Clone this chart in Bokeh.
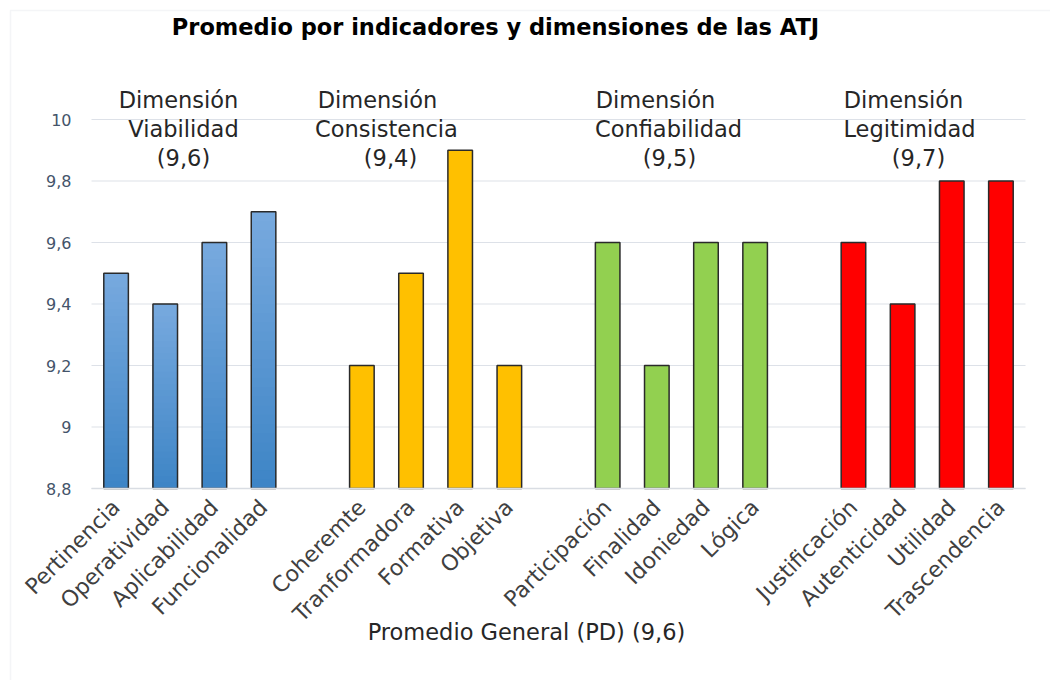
import numpy as np
from bokeh.plotting import figure
from bokeh.models import FixedTicker, Label, BoxAnnotation, LinearAxis
from bokeh.embed import file_html
from bokeh.resources import INLINE

# ---------------- data ----------------
title_text = "Promedio por indicadores y dimensiones de las ATJ"
dimensions = ["Viabilidad", "Consistencia", "Confiabilidad", "Legitimidad"]
dimension_means = ["(9,6)", "(9,4)", "(9,5)", "(9,7)"]
ind_viabilidad = ["Pertinencia", "Operatividad", "Aplicabilidad", "Funcionalidad"]
ind_consistencia = ["Coheremte", "Tranformadora", "Formativa", "Objetiva"]
ind_confiabilidad = ["Participación", "Finalidad", "Idoniedad", "Lógica"]
ind_legitimidad = ["Justificación", "Autenticidad", "Utilidad", "Trascendencia"]
val_viabilidad = [9.5, 9.4, 9.6, 9.7]
val_consistencia = [9.2, 9.5, 9.9, 9.2]
val_confiabilidad = [9.6, 9.2, 9.6, 9.6]
val_legitimidad = [9.6, 9.4, 9.8, 9.8]
general_text = "Promedio General (PD) (9,6)"
y_ticks = [8.8, 9.0, 9.2, 9.4, 9.6, 9.8, 10.0]
y_tick_labels = ["8,8", "9", "9,2", "9,4", "9,6", "9,8", "10"]

group_names = [ind_viabilidad, ind_consistencia, ind_confiabilidad, ind_legitimidad]
group_vals = [val_viabilidad, val_consistencia, val_confiabilidad, val_legitimidad]
group_colors = [None, "#ffc000", "#92d050", "#ff0000"]

Y0, Y1 = 8.8, 10.0
N_SLOTS = 19
X0, X1 = -0.5, N_SLOTS - 0.5
FONT = "DejaVu Sans"

# page geometry of the plotting area (frame covers the whole canvas so no text is clipped)
W, H = 1050, 680
PL, PR, PT, PB = 91, 1025, 119, 488
SX = (PR - PL) / N_SLOTS        # px per slot
SY = (PB - PT) / (Y1 - Y0)      # px per unit


def xd(px):
    return X0 + (px - PL) / SX


def yd(py):
    return Y1 - (py - PT) / SY


p = figure(frame_width=W, frame_height=H,
           min_border_left=0, min_border_right=0, min_border_top=0, min_border_bottom=0,
           x_range=(xd(0), xd(W)), y_range=(yd(H), yd(0)),
           x_axis_type=None, y_axis_type=None,
           output_backend="svg", toolbar_location=None, tools="")
p.outline_line_color = None
p.background_fill_color = "white"
p.border_fill_color = "white"
p.xgrid.visible = False
p.ygrid.visible = False

# outer chart border (left and top edges visible)
p.add_layout(BoxAnnotation(left=xd(10), right=xd(W + 50), top=yd(10), bottom=yd(H + 50),
                           fill_alpha=0, line_color="#d9dde3", line_width=1.5))

# horizontal gridlines across the plot area
p.segment(x0=X0, x1=X1, y0=y_ticks, y1=y_ticks, line_color="#dde1e8", line_width=1.2)

# ---------------- bars ----------------
slot_positions = []
slot_labels = []
bar_w = 0.5
for g, (names, vals) in enumerate(zip(group_names, group_vals)):
    xs = [g * 5 + i for i in range(len(vals))]
    slot_positions += xs
    slot_labels += names
    if group_colors[g] is None:
        top_c = np.array([0x78, 0xaa, 0xdf])
        bot_c = np.array([0x3e, 0x85, 0xc6])
        N = 30
        for k in range(N):
            frac = 1 - k / N
            t = (k + 0.5) / N
            c = (top_c * (1 - t) + bot_c * t).astype(int)
            col = "#%02x%02x%02x" % tuple(c)
            tops = [Y0 + (v - Y0) * frac for v in vals]
            p.vbar(x=xs, top=tops, bottom=Y0, width=bar_w, fill_color=col, line_color=None)
        p.vbar(x=xs, top=vals, bottom=Y0, width=bar_w, fill_alpha=0,
               line_color="#2a2a2a", line_width=1.5)
    else:
        p.vbar(x=xs, top=vals, bottom=Y0, width=bar_w, fill_color=group_colors[g],
               line_color="#2a2a2a", line_width=1.5)

# ---------------- axes (fixed inside the frame) ----------------
xaxis = LinearAxis(fixed_location=Y0, bounds=(X0, X1))
xaxis.ticker = FixedTicker(ticks=slot_positions)
xaxis.major_label_overrides = {float(x): n for x, n in zip(slot_positions, slot_labels)}
xaxis.axis_line_color = "#d9dde3"
xaxis.axis_line_width = 1.5
xaxis.major_tick_line_color = None
xaxis.minor_tick_line_color = None
xaxis.major_label_orientation = 0.785
xaxis.major_label_text_font = FONT
xaxis.major_label_text_font_size = "22px"
xaxis.major_label_text_color = "#404040"
xaxis.major_label_standoff = 9
p.add_layout(xaxis, "below")

yaxis = LinearAxis(fixed_location=X0, bounds=(Y0, Y1))
yaxis.ticker = FixedTicker(ticks=y_ticks)
yaxis.major_label_overrides = {t: l for t, l in zip(y_ticks, y_tick_labels)}
yaxis.axis_line_color = None
yaxis.major_tick_line_color = None
yaxis.minor_tick_line_color = None
yaxis.major_label_text_font = FONT
yaxis.major_label_text_font_size = "16px"
yaxis.major_label_text_color = "#44546a"
yaxis.major_label_standoff = 14
p.add_layout(yaxis, "left")


# ---------------- texts ----------------
def lab(px, py, txt, size, bold=False, color="#262626"):
    p.add_layout(Label(x=xd(px), y=yd(py), text=txt,
                       text_align="center", text_baseline="alphabetic", text_font=FONT,
                       text_font_size=size, text_font_style="bold" if bold else "normal",
                       text_color=color))


lab(495, 26, title_text, "22.5px", bold=True, color="#000000")

line_centers = [(178, 183, 183), (377, 386, 390), (655, 668, 669), (903, 909, 918)]
for g in range(4):
    lines = ["Dimensión", dimensions[g], dimension_means[g]]
    for txt, cx, by in zip(lines, line_centers[g], (99, 128, 157)):
        lab(cx, by, txt, "22.5px")

lab(526, 631, general_text, "22.5px")

open("out.html", "w").write(file_html(p, INLINE))
